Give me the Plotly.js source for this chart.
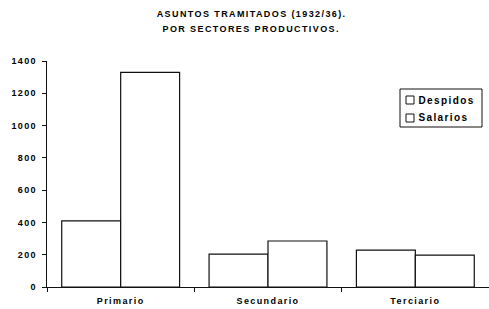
<!DOCTYPE html>
<html>
<head>
<meta charset="utf-8">
<script src="https://cdn.plot.ly/plotly-3.0.1.min.js"></script>
<style>
html,body{margin:0;padding:0;background:#fff;}
#chart{width:489px;height:309px;}
#chart text{letter-spacing:1.4px;}
</style>
</head>
<body>
<div id="chart"></div>
<script>
const categories = ["Primario", "Secundario", "Terciario"];
const despidos = [410, 204, 228];
const salarios = [1330, 285, 198];
const seriesNames = ["Despidos", "Salarios"];
const yTicks = [0, 200, 400, 600, 800, 1000, 1200, 1400];
const titleLines = ["ASUNTOS TRAMITADOS (1932/36).", "POR SECTORES PRODUCTIVOS."];

const font = {family: "Liberation Sans, Arial, sans-serif", color: "#000"};
const barStyle = {color: "#ffffff", line: {color: "#111", width: 1.2}};

const data = [
  {type: "bar", name: seriesNames[0], x: categories, y: despidos, marker: barStyle, showlegend: false},
  {type: "bar", name: seriesNames[1], x: categories, y: salarios, marker: barStyle, showlegend: false}
];

// paper-coordinate helpers for legend and title placement
const L = 47, W = 442, B = 287, H = 226;
const px = v => (v - L) / W;
const py = v => (B - v) / H;
const shapes = [
  {type: "rect", xref: "paper", yref: "paper", x0: px(400), x1: px(482), y0: py(127), y1: py(89),
   line: {color: "#111", width: 1}, fillcolor: "#fff"}
];
const annotations = [];
const rowsY = [100, 118];
seriesNames.forEach((n, i) => {
  shapes.push({type: "rect", xref: "paper", yref: "paper",
    x0: px(406), x1: px(414), y0: py(rowsY[i] + 4), y1: py(rowsY[i] - 4),
    line: {color: "#111", width: 1}, fillcolor: "#fff"});
  annotations.push({xref: "paper", yref: "paper", x: px(416), y: py(rowsY[i]),
    xanchor: "left", yanchor: "middle", showarrow: false, text: "<b>" + n + "</b>",
    xshift: 6, font: Object.assign({size: 10}, font)});
});
const titleY = [14, 29];
titleLines.forEach((t, i) => {
  annotations.push({xref: "paper", yref: "paper", x: px(251), y: py(titleY[i]),
    xanchor: "center", yanchor: "middle", showarrow: false, text: "<b>" + t + "</b>",
    font: Object.assign({size: 9}, font)});
});

const layout = {
  width: 489, height: 309,
  margin: {l: 47, r: 0, t: 61, b: 22},
  paper_bgcolor: "#fff", plot_bgcolor: "#fff",
  barmode: "group", bargap: 0.2, bargroupgap: 0,
  xaxis: {
    showgrid: false, showline: true, linecolor: "#111", linewidth: 1.2,
    ticks: "outside", tickson: "boundaries", ticklen: 4, tickcolor: "#111",
    tickfont: Object.assign({size: 9, weight: "bold"}, font),
    ticklabelstandoff: 5
  },
  yaxis: {
    range: [0, 1400], tickvals: yTicks, showgrid: false, zeroline: false,
    showline: true, linecolor: "#111", linewidth: 1.2,
    ticks: "outside", ticklen: 4, tickcolor: "#111",
    tickfont: Object.assign({size: 9, weight: "bold"}, font),
    ticklabelstandoff: 3
  },
  yaxis2: {
    overlaying: "y", side: "left", range: [0, 1400], tickvals: yTicks,
    showgrid: false, zeroline: false, showline: false, showticklabels: false,
    ticks: "inside", ticklen: 4, tickcolor: "#111"
  },
  shapes: shapes,
  annotations: annotations,
  showlegend: false
};

Plotly.newPlot("chart", data, layout, {displayModeBar: false, staticPlot: true});
</script>
</body>
</html>
